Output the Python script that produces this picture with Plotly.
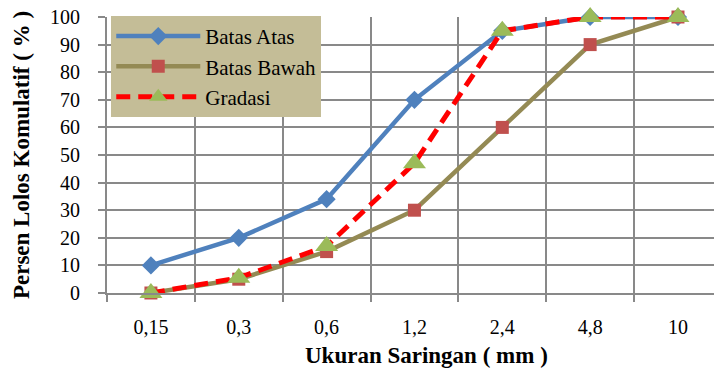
import plotly.graph_objects as go

# Sieve sizes (mm) and cumulative percent passing
sieve_labels = ["0,15", "0,3", "0,6", "1,2", "2,4", "4,8", "10"]
batas_atas = [10, 20, 34, 70, 95, 100, 100]
batas_bawah = [0, 5, 15, 30, 60, 90, 100]
gradasi = [0, 5.5, 17, 47, 95, 100, 100]

x_idx = list(range(len(sieve_labels)))
boundaries = [i - 0.5 for i in range(len(sieve_labels) + 1)]

FONT = "'Liberation Serif', 'Times New Roman', 'DejaVu Serif', serif"
GRID = "#898989"

fig = go.Figure()

fig.add_trace(go.Scatter(
    x=x_idx, y=batas_atas, name="Batas Atas", mode="lines+markers",
    line=dict(color="#4F81BD", width=4.5),
    marker=dict(symbol="diamond", size=14, color="#4F81BD"),
    cliponaxis=False,
))
fig.add_trace(go.Scatter(
    x=x_idx, y=batas_bawah, name="Batas Bawah", mode="lines+markers",
    line=dict(color="#948A54", width=4.5),
    marker=dict(symbol="square", size=13, color="#C0504D"),
    cliponaxis=False,
))
fig.add_trace(go.Scatter(
    x=x_idx, y=gradasi, name="Gradasi", mode="lines+markers",
    line=dict(color="#FF0000", width=5, dash="14px,8px"),
    marker=dict(symbol="triangle-up", size=20, color="#9BBB59"),
    cliponaxis=False,
))

fig.update_layout(
    width=714, height=375,
    margin=dict(l=107, r=0, t=17, b=82),
    paper_bgcolor="white", plot_bgcolor="white",
    font=dict(family=FONT, size=20, color="black"),
    showlegend=True,
    legend=dict(
        x=0.007, y=1.004, xanchor="left", yanchor="top",
        bgcolor="#C4BD97", borderwidth=0,
        font=dict(family=FONT, size=21, color="black"),
        itemwidth=84, tracegroupgap=0,
    ),
    xaxis=dict(
        range=[-0.5, 6.41],
        tickmode="array", tickvals=x_idx, ticktext=sieve_labels,
        ticks="", showgrid=False, zeroline=False,
        showline=True, linecolor=GRID, linewidth=2,
        ticklabelstandoff=15,
        minor=dict(tickmode="array", tickvals=boundaries, ticks="outside",
                   ticklen=7, tickwidth=2, tickcolor=GRID,
                   showgrid=True, gridcolor=GRID, gridwidth=2),
    ),
    yaxis=dict(
        range=[0, 100], tickmode="linear", tick0=0, dtick=10,
        ticks="outside", ticklen=7, tickwidth=2, tickcolor=GRID,
        showgrid=True, gridcolor=GRID, gridwidth=2, zeroline=False,
        showline=True, linecolor=GRID, linewidth=2,
        ticklabelstandoff=14,
        title=dict(text="<b>Persen Lolos Komulatif ( % )</b>", standoff=14,
                   font=dict(family=FONT, size=23)),
    ),
    annotations=[dict(
        text="<b>Ukuran Saringan ( mm )</b>",
        xref="paper", yref="paper", x=0.527, y=-0.225,
        xanchor="center", yanchor="middle", showarrow=False,
        font=dict(family=FONT, size=23, color="black"),
    )],
)

fig.write_html("out.html")
